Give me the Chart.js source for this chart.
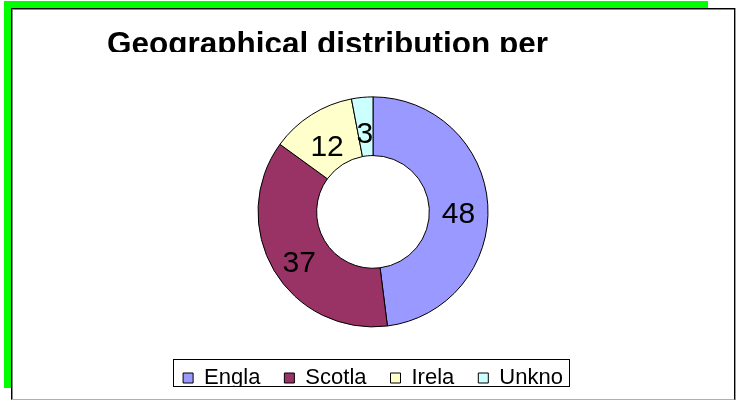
<!DOCTYPE html>
<html>
<head>
<meta charset="utf-8">
<script src="https://cdn.jsdelivr.net/npm/chart.js@4"></script>
<style>
  html, body { margin: 0; padding: 0; background: #fff; }
  body { width: 738px; height: 400px; position: relative; overflow: hidden; }
  .green-top { position: absolute; left: 4px; top: 1px; width: 704px; height: 7px; background: #00ff00; }
  .green-left { position: absolute; left: 4px; top: 1px; width: 7px; height: 387px; background: #00ff00; }
  .panel {
    position: absolute; left: 11px; top: 8px; width: 722px; height: 390px;
    background: #fff;
    border-top: 1px solid #000; border-left: 1px solid #000; border-right: 1px solid #000;
    border-bottom: 1px solid #b0b0b0;
    box-shadow: inset 1px 1px 0 #888, 1px 0 0 #999;
  }
  #chart { position: absolute; left: 0; top: 0; }
</style>
</head>
<body>
<div class="green-top"></div>
<div class="green-left"></div>
<div class="panel"></div>
<canvas id="chart" width="738" height="400"></canvas>
<script>
document.addEventListener('DOMContentLoaded', function () {
    const chartTitle = 'Geographical distribution per';
    const categories = ['Engla', 'Scotla', 'Irela', 'Unkno'];
    const values = [48, 37, 12, 3];
    const colours = ['#9999FF', '#993366', '#FFFFCC', '#CCFFFF'];

    Chart.defaults.font.family = '"Liberation Sans", Arial, sans-serif';
    Chart.defaults.color = '#000';

    // old Excel export cuts the title and legend text at the bottom
    const clipText = {
      id: 'clipText',
      beforeDraw(chart) {
        const ctx = chart.ctx;
        ctx.save();
        ctx.beginPath();
        ctx.rect(0, 0, chart.width, 52);
        ctx.rect(0, 70, chart.width, 386 - 70);
        ctx.clip();
      },
      beforeDatasetsDraw(chart) {
        chart.ctx.restore();
      }
    };

    const legendBorder = {
      id: 'legendBorder',
      afterDraw(chart) {
        const boxes = chart.legend.legendHitBoxes;
        if (!boxes || !boxes.length) return;
        const first = boxes[0];
        const last = boxes[boxes.length - 1];
        const left = Math.round(first.left - 10) + 0.5;
        const right = Math.round(last.left + last.width + 6) + 0.5;
        const ctx = chart.ctx;
        ctx.save();
        ctx.strokeStyle = '#000';
        ctx.lineWidth = 1;
        ctx.strokeRect(left, 359.5, right - left, 27);
        ctx.restore();
      }
    };

    const valueLabels = {
      id: 'valueLabels',
      afterDatasetsDraw(chart) {
        const ctx = chart.ctx;
        const meta = chart.getDatasetMeta(0);
        ctx.save();
        ctx.font = '30px "Liberation Sans", Arial, sans-serif';
        ctx.fillStyle = '#000';
        ctx.textAlign = 'center';
        ctx.textBaseline = 'middle';
        meta.data.forEach(function (arc, i) {
          const p = arc.getCenterPoint();
          ctx.fillText(String(values[i]), p.x, p.y + 8);
        });
        ctx.restore();
      }
    };

    const ctx = document.getElementById('chart').getContext('2d');
    new Chart(ctx, {
      type: 'doughnut',
      data: {
        labels: categories,
        datasets: [{
          data: values,
          backgroundColor: colours,
          borderColor: '#000',
          borderWidth: 1,
          radius: 115,
        }]
      },
      options: {
        responsive: false,
        animation: false,
        events: [],
        cutout: '49%',
        layout: {
          padding: { left: 107, right: 99, top: 0, bottom: 1 }
        },
        plugins: {
          title: {
            display: true,
            text: chartTitle,
            align: 'start',
            font: { size: 31.5, weight: 'bold' },
            padding: { top: 26, bottom: 17 }
          },
          legend: {
            position: 'bottom',
            labels: {
              boxWidth: 10,
              boxHeight: 10,
              padding: 24,
              font: { size: 22 }
            }
          },
          tooltip: { enabled: false }
        }
      },
      plugins: [clipText, legendBorder, valueLabels]
    });
});
</script>
</body>
</html>
